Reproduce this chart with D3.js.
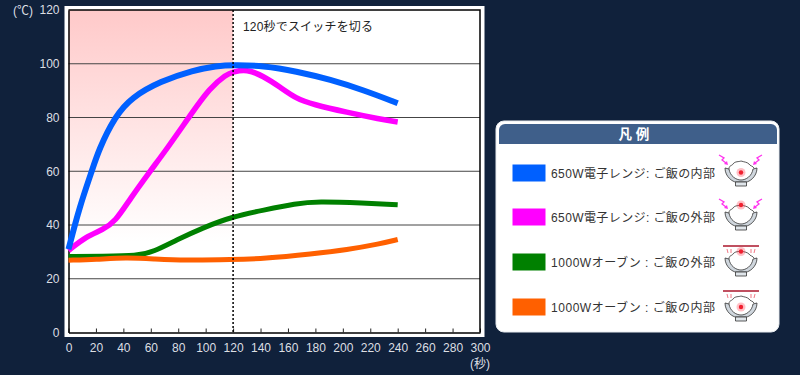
<!DOCTYPE html>
<html>
<head>
<meta charset="utf-8">
<script src="https://cdn.jsdelivr.net/npm/d3@7"></script>
<style>
  html, body { margin: 0; padding: 0; background: #10213b; }
  svg { display: block; }
  text { font-family: "Liberation Sans", "Noto Sans CJK JP", sans-serif; }
</style>
</head>
<body>
<svg width="800" height="375"></svg>
<script>
const blueTimes = [0, 8, 17, 22, 34, 46, 67, 91, 108, 120, 142, 166, 191, 215, 240];
const blueTemps = [31, 46.7, 60, 68, 80.5, 87.5, 93.5, 97.6, 99.2, 99.6, 99.3, 97.2, 94.1, 90.2, 85.3];
const pinkTimes = [0, 13, 25, 34, 45, 59, 72, 89, 103, 115, 120, 130, 142, 154, 166, 178, 203, 227, 240];
const pinkTemps = [30.5, 35.8, 38.2, 41.2, 49.8, 59.7, 68.5, 81, 91, 96, 97, 98, 95.4, 91.4, 87, 84.9, 81.9, 79.4, 78.3];
const greenTimes = [0, 25, 50, 62, 79, 98, 120, 142, 166, 181, 215, 240];
const greenTemps = [28.3, 28.4, 28.5, 30, 34.5, 39, 43.2, 45.5, 48, 48.8, 48.2, 47.5];
const orangeTimes = [0, 20, 42, 62, 84, 120, 142, 178, 203, 227, 240];
const orangeTemps = [26.9, 27.2, 27.9, 27.4, 26.8, 27.1, 27.5, 29.3, 30.8, 33, 34.6];

const xTicks = d3.range(0, 301, 20);
const yTicks = d3.range(0, 121, 20);
const switchTime = 120;

const legendLabels = [
  "650W電子レンジ: ご飯の内部",
  "650W電子レンジ: ご飯の外部",
  "1000Wオーブン : ご飯の外部",
  "1000Wオーブン : ご飯の内部",
];
const legendColors = ["#0060ff", "#ff00ff", "#008000", "#ff6000"];

const canvas = d3.select("svg");
const canvasWidth = 800;
const canvasHeight = 375;

const xScale = d3.scaleLinear().domain([0, 300]).range([68.5, 480]);
const yScale = d3.scaleLinear().domain([0, 120]).range([332.5, 10]);

const defs = canvas.append("defs");
const grad = defs
  .append("linearGradient")
  .attr("id", "fade")
  .attr("x1", 0)
  .attr("y1", 0)
  .attr("x2", 0)
  .attr("y2", 1);
grad.append("stop").attr("offset", "0%").attr("stop-color", "#ffc9c9");
grad.append("stop").attr("offset", "72%").attr("stop-color", "#ffffff");

canvas.append("rect").attr("width", canvasWidth).attr("height", canvasHeight).attr("fill", "#10213b");

// white frame behind the plot
canvas
  .append("rect")
  .attr("x", 64.5)
  .attr("y", 6)
  .attr("width", 420)
  .attr("height", 331)
  .attr("fill", "#ffffff");

canvas
  .append("rect")
  .attr("x", xScale(0))
  .attr("y", yScale(120))
  .attr("width", xScale(switchTime) - xScale(0))
  .attr("height", yScale(0) - yScale(120))
  .attr("fill", "url(#fade)");

// grid
canvas
  .append("g")
  .selectAll("line")
  .data(yTicks.slice(1, -1))
  .enter()
  .append("line")
  .attr("x1", xScale(0))
  .attr("x2", xScale(300))
  .attr("y1", (d) => yScale(d))
  .attr("y2", (d) => yScale(d))
  .attr("stroke", "#444444")
  .attr("stroke-width", 1);

// axes
const xAxis = d3
  .axisBottom(xScale)
  .tickValues(xTicks)
  .tickSizeInner(-4)
  .tickSizeOuter(0)
  .tickPadding(11);
const yAxis = d3.axisLeft(yScale).tickValues(yTicks).tickSize(0).tickPadding(9);

const gx = canvas
  .append("g")
  .attr("transform", `translate(0, ${yScale(0)})`)
  .call(xAxis);
const gy = canvas
  .append("g")
  .attr("transform", `translate(${xScale(0)}, 0)`)
  .call(yAxis);

gx.selectAll("text").attr("fill", "#dcdfe3").attr("font-size", 12).attr("font-family", "Liberation Sans");
gy.selectAll("text").attr("fill", "#dcdfe3").attr("font-size", 12).attr("font-family", "Liberation Sans");
gx.selectAll(".tick line").attr("stroke", "#222222");
gx.select(".domain").attr("stroke", "#000000").attr("stroke-width", 1.5);
gy.select(".domain").attr("stroke", "#000000").attr("stroke-width", 1.5);

// top and right border of the plot
canvas
  .append("path")
  .attr("d", `M${xScale(0)},${yScale(120)}H${xScale(300)}V${yScale(0)}`)
  .attr("fill", "none")
  .attr("stroke", "#000000")
  .attr("stroke-width", 1.5);

canvas
  .append("text")
  .attr("x", 13)
  .attr("y", 15)
  .attr("font-size", 12)
  .attr("fill", "#dcdfe3")
  .text("(℃)");
canvas
  .append("text")
  .attr("x", 470)
  .attr("y", 368)
  .attr("font-size", 12)
  .attr("fill", "#dcdfe3")
  .text("(秒)");

// curves
const line = d3
  .line()
  .x((d) => xScale(d[0]))
  .y((d) => yScale(d[1]))
  .curve(d3.curveBasis);

const series = [
  { times: greenTimes, temps: greenTemps, color: legendColors[2], width: 5 },
  { times: orangeTimes, temps: orangeTemps, color: legendColors[3], width: 5 },
  { times: pinkTimes, temps: pinkTemps, color: legendColors[1], width: 5.5 },
  { times: blueTimes, temps: blueTemps, color: legendColors[0], width: 6 },
];

canvas
  .append("g")
  .selectAll("path")
  .data(series)
  .enter()
  .append("path")
  .attr("d", (s) => line(d3.zip(s.times, s.temps)))
  .attr("fill", "none")
  .attr("stroke", (s) => s.color)
  .attr("stroke-width", (s) => s.width);

// dotted line at the switch time
canvas
  .append("line")
  .attr("x1", xScale(switchTime))
  .attr("x2", xScale(switchTime))
  .attr("y1", yScale(120))
  .attr("y2", yScale(0))
  .attr("stroke", "#000000")
  .attr("stroke-width", 1.5)
  .attr("stroke-dasharray", "2 2");

canvas
  .append("text")
  .attr("x", 243)
  .attr("y", 31)
  .attr("font-size", 12)
  .attr("fill", "#222222")
  .attr("textLength", 130)
  .text("120秒でスイッチを切る");

// legend box
canvas
  .append("rect")
  .attr("x", 496)
  .attr("y", 121)
  .attr("width", 283)
  .attr("height", 211)
  .attr("rx", 8)
  .attr("fill", "#ffffff")
  .attr("stroke", "#e8ecf0");

canvas
  .append("path")
  .attr("d", "M499,144V130a6,6 0 0 1 6,-6H771a6,6 0 0 1 6,6V144Z")
  .attr("fill", "#3f5f8a");

canvas
  .append("text")
  .attr("x", 634)
  .attr("y", 139)
  .attr("text-anchor", "middle")
  .attr("font-size", 13.5)
  .attr("font-weight", "bold")
  .attr("fill", "#ffffff")
  .text("凡 例");

const rowY = d3.scaleOrdinal().domain(legendLabels).range([164.5, 208.5, 253.5, 298.5]);
const iconY = [168, 212, 258, 303];
const dotY = [4.5, -7, -6.5, 4];
const isOven = [false, false, true, true];

const rows = canvas.append("g").selectAll("g").data(legendLabels).enter().append("g");

rows
  .append("rect")
  .attr("x", 512.5)
  .attr("y", (d) => rowY(d))
  .attr("width", 33)
  .attr("height", 17)
  .attr("fill", (d, i) => legendColors[i]);

rows
  .append("text")
  .attr("x", 551)
  .attr("y", (d) => rowY(d) + 13)
  .attr("font-size", 12)
  .attr("fill", "#333333")
  .attr("textLength", 164)
  .text((d) => d);

// little rice bowl pictures
const icons = rows
  .append("g")
  .attr("transform", (d, i) => `translate(741, ${iconY[i]})`);

icons
  .append("path")
  .attr("d", "M-16,0C-16,9 -8,14 -5,14H5C8,14 16,9 16,0L12,1C11,8 5,12 0,12C-5,12 -11,8 -12,1Z")
  .attr("fill", "#cfd6dd")
  .attr("stroke", "#333333")
  .attr("stroke-width", 0.8);
icons
  .append("path")
  .attr("d", "M-5.5,14H5.5V18H-5.5Z")
  .attr("fill", "#dfe5ea")
  .attr("stroke", "#333333")
  .attr("stroke-width", 0.8);
icons
  .append("path")
  .attr("d", "M-12,1C-12,-3 -9,-2 -8,-4C-6,-7 -2,-6 0,-7C3,-6 6,-6 8,-4C9,-2 12,-2 13,0")
  .attr("fill", "none")
  .attr("stroke", "#333333")
  .attr("stroke-width", 0.8);
icons
  .append("circle")
  .attr("cx", 0)
  .attr("cy", (d, i) => dotY[i])
  .attr("r", 4.5)
  .attr("fill", "#ff3344")
  .attr("opacity", 0.3);
icons
  .append("circle")
  .attr("cx", 0)
  .attr("cy", (d, i) => dotY[i])
  .attr("r", 2.2)
  .attr("fill", "#f02030");

icons
  .filter((d, i) => !isOven[i])
  .selectAll("path.zap")
  .data([
    "M-22,-13L-17,-10L-19,-8L-15,-5",
    "M21,-13L16,-10L18,-8L14,-5",
  ])
  .enter()
  .append("path")
  .attr("d", (d) => d)
  .attr("fill", "none")
  .attr("stroke", "#ff33ee")
  .attr("stroke-width", 1.3);

icons
  .filter((d, i) => !isOven[i])
  .selectAll("path.head")
  .data(["M-13,-3L-17,-4L-14,-7Z", "M12,-3L16,-4L13,-7Z"])
  .enter()
  .append("path")
  .attr("d", (d) => d)
  .attr("fill", "#ff33ee");

icons
  .filter((d, i) => isOven[i])
  .append("rect")
  .attr("x", -18)
  .attr("y", -13)
  .attr("width", 36)
  .attr("height", 2)
  .attr("fill", "#c05060");

icons
  .filter((d, i) => isOven[i])
  .selectAll("path.heat")
  .data(["M-14,-9L-13,-5", "M-10,-9L-10,-5", "M10,-9L10,-5", "M14,-9L13,-5"])
  .enter()
  .append("path")
  .attr("d", (d) => d)
  .attr("stroke", "#ee5566")
  .attr("stroke-width", 0.8);
</script>
</body>
</html>
